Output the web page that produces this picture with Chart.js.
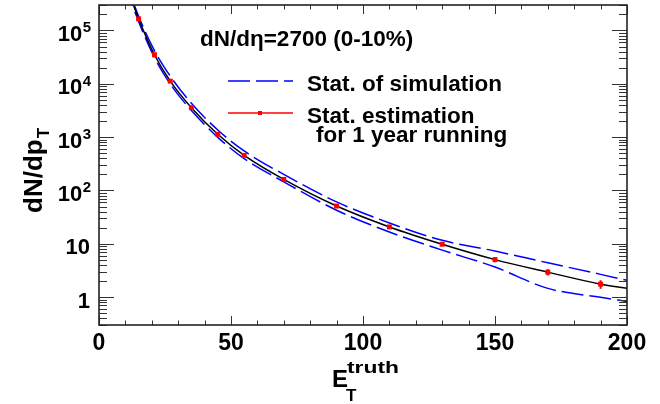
<!DOCTYPE html>
<html>
<head>
<meta charset="utf-8">
<script src="https://cdn.jsdelivr.net/npm/chart.js@4"></script>
<style>
  html, body { margin: 0; padding: 0; background: #fff; }
</style>
</head>
<body>
<canvas id="myChart" width="660" height="404"></canvas>
<script>
// smooth curve (black) and statistical band of simulation (blue dashed)
const curveX = [10, 15, 21, 27, 35, 45, 55, 70, 90, 110, 130, 150, 170, 190, 200];
const curveY = [8e5, 1.65e5, 3.5e4, 1.12e4, 3560, 1130, 454, 161, 51, 20.7, 9.8, 5.05, 2.94, 1.75, 1.46];
const upperY = [9e5, 1.85e5, 4.2e4, 1.39e4, 4300, 1360, 550, 200, 61, 24.6, 11.6, 7.3, 4.4, 2.67, 2.06];
const lowerY = [7.1e5, 1.47e5, 3.1e4, 9900, 3150, 990, 395, 145, 42.6, 16.6, 7.6, 3.66, 1.46, 0.99, 0.83];

// estimation for 1 year running (red points + errors)
const estX = [15, 21, 27, 35, 45, 55, 70, 90, 110, 130, 150, 170, 190];
const estY = [1.65e5, 3.5e4, 1.12e4, 3560, 1130, 454, 161, 51, 20.7, 9.8, 5.05, 2.94, 1.75];
const estErr = [0, 0, 0, 0, 0, 0, 0, 0, 0, 0, 0.55, 0.4, 0.32];

// axis ticks
const xTicks = [0, 50, 100, 150, 200];
const yTicks = [1, 10, 100, 1000, 10000, 100000];
const yTickBase = ['1', '10', '10', '10', '10', '10'];
const yTickExp = ['', '', '2', '3', '4', '5'];

const FONT = '"Liberation Sans", Arial, Helvetica, sans-serif';

function pts(xs, ys) {
  return xs.map((v, i) => ({ x: v, y: ys[i] }));
}

const rootStyle = {
  id: 'rootStyle',
  afterDatasetsDraw(chart) {
    const { ctx, scales: { x, y } } = chart;
    ctx.save();
    ctx.strokeStyle = '#ff0000';
    ctx.lineWidth = 2;
    estX.forEach((v, i) => {
      if (!estErr[i]) return;
      const px = x.getPixelForValue(v);
      ctx.beginPath();
      ctx.moveTo(px, y.getPixelForValue(estY[i] - estErr[i]));
      ctx.lineTo(px, y.getPixelForValue(estY[i] + estErr[i]));
      ctx.stroke();
    });
    ctx.restore();
  },
  afterDraw(chart) {
    const { ctx, chartArea: a, scales: { x, y } } = chart;
    ctx.save();

    // ticks inside the frame
    ctx.strokeStyle = '#333';
    ctx.lineWidth = 1;
    ctx.beginPath();
    for (let v = 0; v <= 200; v += 10) {
      const px = Math.round(x.getPixelForValue(v)) + 0.5;
      const len = v % 50 === 0 ? 9 : 4.5;
      ctx.moveTo(px, a.bottom); ctx.lineTo(px, a.bottom - len);
      ctx.moveTo(px, a.top); ctx.lineTo(px, a.top + len);
    }
    for (let d = 0.1; d <= 1e5; d *= 10) {
      for (let k = 1; k <= 9; k++) {
        const v = k * d;
        if (v < 0.3 || v > 3e5) continue;
        const py = Math.round(y.getPixelForValue(v)) + 0.5;
        const len = k === 1 ? 15 : 8;
        ctx.moveTo(a.left, py); ctx.lineTo(a.left + len, py);
        ctx.moveTo(a.right, py); ctx.lineTo(a.right - len, py);
      }
    }
    ctx.stroke();

    // frame
    ctx.strokeStyle = '#222';
    ctx.lineWidth = 1.6;
    ctx.strokeRect(a.left, a.top, a.right - a.left, a.bottom - a.top);

    ctx.fillStyle = '#000';
    ctx.textBaseline = 'alphabetic';

    // x tick labels
    ctx.font = 'bold 23px ' + FONT;
    ctx.textAlign = 'center';
    xTicks.forEach(v => ctx.fillText(String(v), x.getPixelForValue(v), 350));

    // y tick labels with exponents
    yTicks.forEach((v, i) => {
      const py = y.getPixelForValue(v);
      let right = 91;
      if (yTickExp[i]) {
        ctx.font = 'bold 15px ' + FONT;
        ctx.textAlign = 'right';
        ctx.fillText(yTickExp[i], right, py + 2);
        right -= ctx.measureText(yTickExp[i]).width + 0.5;
      } else {
        right = 90;
      }
      ctx.font = 'bold 22px ' + FONT;
      ctx.textAlign = 'right';
      ctx.fillText(yTickBase[i], right, py + 10.5);
    });

    // x axis title: E_T^truth
    ctx.textAlign = 'left';
    ctx.font = 'bold 24px ' + FONT;
    ctx.fillText('E', 332, 387);
    ctx.font = 'bold 17px ' + FONT;
    ctx.save();
    ctx.translate(347, 373);
    ctx.scale(52 / ctx.measureText('truth').width, 1);
    ctx.fillText('truth', 0, 0);
    ctx.restore();
    ctx.fillText('T', 346, 401);

    // y axis title: dN/dp_T (rotated)
    ctx.save();
    ctx.translate(42, 213);
    ctx.rotate(-Math.PI / 2);
    ctx.font = 'bold 26px ' + FONT;
    ctx.fillText('dN/dp', 0, 0);
    const w = ctx.measureText('dN/dp').width;
    ctx.font = 'bold 17px ' + FONT;
    ctx.fillText('T', w + 1, 7);
    ctx.restore();

    // label
    ctx.font = 'bold 22.5px ' + FONT;
    ctx.fillText('dN/d\u03B7=2700 (0-10%)', 200, 46);

    // legend
    ctx.strokeStyle = '#0000ff';
    ctx.lineWidth = 1.5;
    ctx.setLineDash([22, 6]);
    ctx.beginPath();
    ctx.moveTo(228, 81); ctx.lineTo(293, 81);
    ctx.stroke();
    ctx.setLineDash([]);
    ctx.strokeStyle = '#ff0000';
    ctx.beginPath();
    ctx.moveTo(228, 113); ctx.lineTo(293, 113);
    ctx.stroke();
    ctx.fillStyle = '#ff0000';
    ctx.fillRect(258, 111, 4, 4);

    ctx.fillStyle = '#000';
    ctx.font = 'bold 22.5px ' + FONT;
    ctx.fillText('Stat. of simulation', 307, 91);
    ctx.fillText('Stat. estimation', 307, 123);
    ctx.fillText('for 1 year running', 316, 142);

    ctx.restore();
  }
};

new Chart(document.getElementById('myChart'), {
  type: 'line',
  data: {
    datasets: [
      {
        label: 'estimation',
        data: pts(estX, estY),
        order: 0,
        showLine: false,
        pointStyle: 'rect',
        pointRadius: 3.5,
        backgroundColor: '#ff0000',
        borderColor: '#ff0000',
        borderWidth: 0,
      },
      {
        label: 'curve',
        data: pts(curveX, curveY),
        order: 1,
        borderColor: '#000000',
        borderWidth: 1.5,
        pointRadius: 0,
        cubicInterpolationMode: 'monotone',
      },
      {
        label: 'upper',
        data: pts(curveX, upperY),
        order: 2,
        borderColor: '#0000ff',
        borderWidth: 1.5,
        borderDash: [22, 6],
        pointRadius: 0,
        cubicInterpolationMode: 'monotone',
      },
      {
        label: 'lower',
        data: pts(curveX, lowerY),
        order: 2,
        borderColor: '#0000ff',
        borderWidth: 1.5,
        borderDash: [22, 6],
        pointRadius: 0,
        cubicInterpolationMode: 'monotone',
      },
    ]
  },
  options: {
    responsive: false,
    animation: false,
    layout: { padding: { left: 99, right: 33, top: 5, bottom: 79 } },
    scales: {
      x: { type: 'linear', min: 0, max: 200, display: false },
      y: { type: 'logarithmic', min: 0.3, max: 3e5, display: false },
    },
    plugins: {
      legend: { display: false },
      tooltip: { enabled: false },
    },
  },
  plugins: [rootStyle],
});
</script>
</body>
</html>
